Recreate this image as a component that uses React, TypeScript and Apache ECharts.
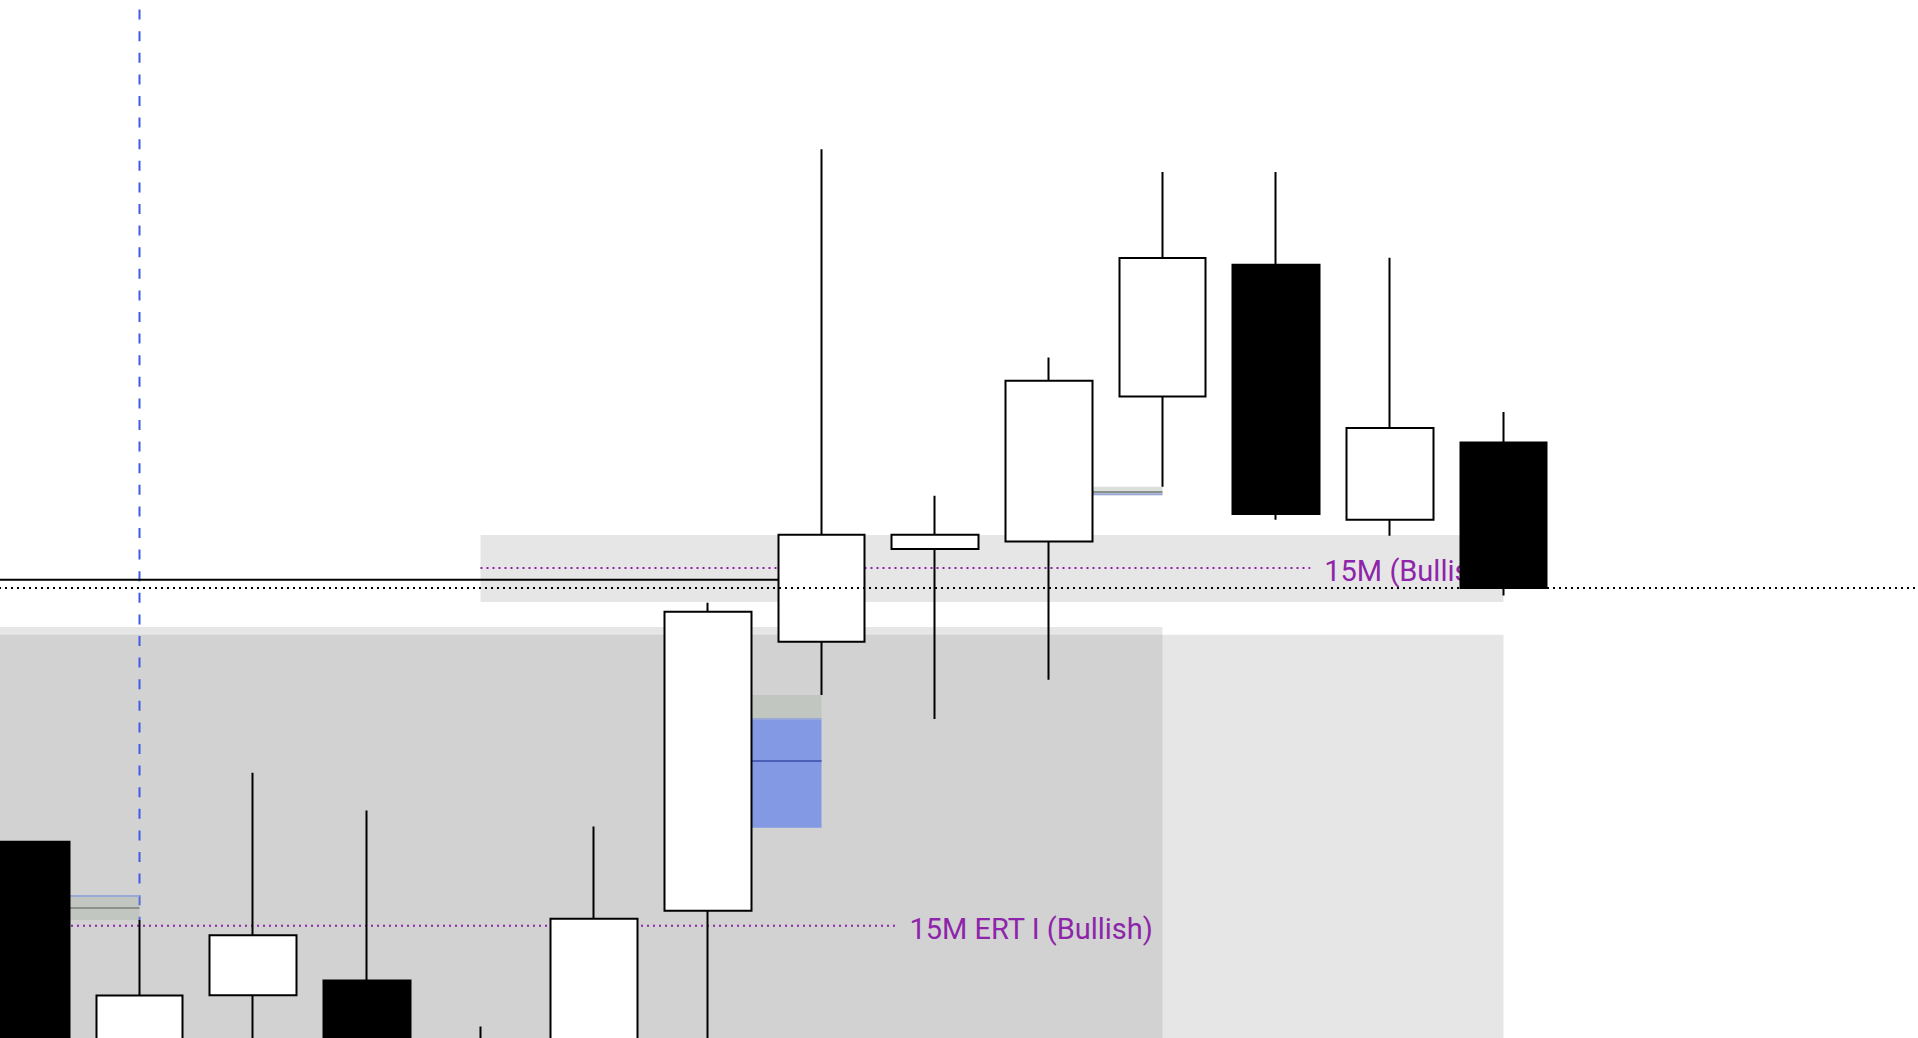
import React, { useEffect, useRef } from 'react';
import * as echarts from 'echarts';

// ---------- data (price units, hidden axis) ----------
const BAR_LABELS = ['1', '2', '3', '4', '5', '6', '7', '8', '9', '10', '11', '12', '13', '14', '15', '16', '17', '18'];
const OPEN = [160.5, -30, 35, 47, -20, -50, 104, 324, 400, 406, 524.7, 632.5, 423.8, 487];
const CLOSE = [-60, 34.7, 84, -30, -50, 97.6, 348.7, 411.7, 411.7, 537.5, 638, 428.6, 499, 368];
const LOW = [-80, -60, -40, -50, -70, -70, -40, 280.5, 261, 293, 450.9, 423.8, 410.8, 362];
const HIGH = [160.5, 96.5, 217, 186, 9.4, 173, 356, 727, 443.5, 556.5, 708.3, 708.3, 638.2, 512];

// zones: [fromBar, toBar, top, bottom]
const ZONE_15M = [4, 13, 411.4, 356.7];
const ZONE_A = [-0.5, 10, 336.2, -30];
const ZONE_B = [-0.5, 13, 329.8, -30];
const GAP_1 = [0, 1, 117, 96.5];
const GAP_2 = [9, 10, 450.9, 443.9];
const GAP_3 = [6, 7, 280.5, 261.4];
const BLUE_BOX = [6, 7, 260.1, 172];

// levels: [fromBar, toBar, price]
const SOLID_LEVEL = [-0.5, 7, 374.9];
const DOTTED_LEVEL = [-0.5, 17.5, 368.1];
const ERT_15M = [4, 11.3, 384.4];
const ERT_I = [-0.5, 7.65, 91.8];
const GAP_1_MID = [0, 1, 106.3];
const GAP_1_EDGE = [0, 1, 116.1];
const GAP_2_MID = [9, 10, 446.6];
const GAP_2_EDGE = [9, 10, 444.7];
const BLUE_BOX_EDGE = [6, 7, 260.9];
const BLUE_BOX_MID = [6, 7, 226.6];
// vertical marker: [bar, top, bottom]
const MARKER = [1, 849, 96.5];

const LABEL_15M = '15M (Bullish)';
const LABEL_ERT_I = '15M ERT I (Bullish)';

const PURPLE = '#8e24aa';

function rectSeries(name: string, items: number[][], fill: string, z: number) {
  return {
    type: 'custom',
    name,
    xAxisIndex: 1,
    yAxisIndex: 0,
    z,
    silent: true,
    data: items,
    encode: { x: [0, 1], y: [2, 3] },
    renderItem: (_p: any, api: any) => {
      const a = api.coord([api.value(0), api.value(2)]);
      const b = api.coord([api.value(1), api.value(3)]);
      return {
        type: 'rect',
        shape: { x: a[0], y: a[1], width: b[0] - a[0], height: b[1] - a[1] },
        style: { fill },
      };
    },
  };
}

function levelSeries(
  name: string,
  items: number[][],
  style: any,
  z: number,
  labels?: string[]
) {
  return {
    type: 'custom',
    name,
    xAxisIndex: 1,
    yAxisIndex: 0,
    z,
    silent: true,
    data: items,
    encode: { x: [0, 1], y: 2 },
    renderItem: (p: any, api: any) => {
      const a = api.coord([api.value(0), api.value(2)]);
      const b = api.coord([api.value(1), api.value(2)]);
      const children: any[] = [
        {
          type: 'line',
          shape: { x1: a[0], y1: a[1], x2: b[0], y2: b[1] },
          style: { ...style, fill: null },
        },
      ];
      if (labels && labels[p.dataIndex]) {
        children.push({
          type: 'text',
          x: b[0] + 14,
          y: b[1] + 3,
          style: {
            text: labels[p.dataIndex],
            fill: PURPLE,
            fontSize: 29,
            fontFamily: 'Roboto',
            align: 'left',
            verticalAlign: 'middle',
          },
        });
      }
      return { type: 'group', children };
    },
  };
}

export default function App() {
  const ref = useRef<HTMLDivElement>(null);

  useEffect(() => {
    if (!ref.current) return;
    const chart = echarts.init(ref.current, undefined, { renderer: 'svg' });
    const candles = OPEN.map((o, i) => [o, CLOSE[i], LOW[i], HIGH[i]]);

    chart.setOption({
      animation: false,
      backgroundColor: '#ffffff',
      grid: { left: 0, top: 0, right: 0, bottom: 0 },
      xAxis: [
        { type: 'category', data: BAR_LABELS, show: false, boundaryGap: true },
        { type: 'value', min: -0.5, max: 17.5, show: false, splitLine: { show: false } },
      ],
      yAxis: { type: 'value', min: 0, max: 849, show: false, splitLine: { show: false } },
      series: [
        rectSeries('zones', [ZONE_A, ZONE_B, ZONE_15M], 'rgba(128,128,128,0.2)', 1),
        {
          type: 'custom',
          name: 'marker',
          xAxisIndex: 1,
          yAxisIndex: 0,
          z: 2,
          silent: true,
          data: [MARKER],
          encode: { x: 0, y: [1, 2] },
          renderItem: (_p: any, api: any) => {
            const a = api.coord([api.value(0), api.value(1)]);
            const b = api.coord([api.value(0), api.value(2)]);
            return {
              type: 'line',
              shape: { x1: a[0], y1: a[1], x2: b[0], y2: b[1] },
              style: { stroke: '#3d5ae8', lineWidth: 2, lineDash: [10, 11.6], lineDashOffset: 11.6 },
            };
          },
        },
        rectSeries('gaps', [GAP_1, GAP_2, GAP_3], 'rgba(172,180,170,0.42)', 3),
        rectSeries('blue box', [BLUE_BOX], '#8399e3', 3),
        levelSeries('gap mid', [GAP_1_MID, GAP_2_MID], { stroke: '#8c918c', lineWidth: 2 }, 4),
        levelSeries('gap edge', [GAP_1_EDGE, GAP_2_EDGE], { stroke: '#9aa8d6', lineWidth: 2 }, 4),
        levelSeries('blue edge', [BLUE_BOX_EDGE], { stroke: '#9aa8d8', lineWidth: 2 }, 4),
        levelSeries('blue mid', [BLUE_BOX_MID], { stroke: '#4a5fb5', lineWidth: 2 }, 4),
        levelSeries('solid level', [SOLID_LEVEL], { stroke: '#000000', lineWidth: 2 }, 5),
        levelSeries(
          'ert',
          [ERT_15M, ERT_I],
          { stroke: PURPLE, lineWidth: 2, lineDash: [2, 4] },
          5,
          [LABEL_15M, LABEL_ERT_I]
        ),
        {
          type: 'candlestick',
          name: 'price',
          xAxisIndex: 0,
          yAxisIndex: 0,
          z: 10,
          silent: true,
          barWidth: 87,
          data: candles,
          itemStyle: {
            color: '#ffffff',
            color0: '#000000',
            borderColor: '#000000',
            borderColor0: '#000000',
            borderColorDoji: '#000000',
            borderWidth: 2,
          },
        },
        levelSeries('dotted level', [DOTTED_LEVEL], { stroke: '#000000', lineWidth: 2, lineDash: [2, 4] }, 20),
      ],
    });

    return () => chart.dispose();
  }, []);

  return (
    <div style={{ position: 'fixed', left: 0, top: 0, width: '1918px', height: '1038px', overflow: 'hidden', background: '#fff' }}>
      <div
        ref={ref}
        style={{ position: 'absolute', left: '-31.16px', top: 0, width: '2045.5px', height: '1038px' }}
      />
    </div>
  );
}
